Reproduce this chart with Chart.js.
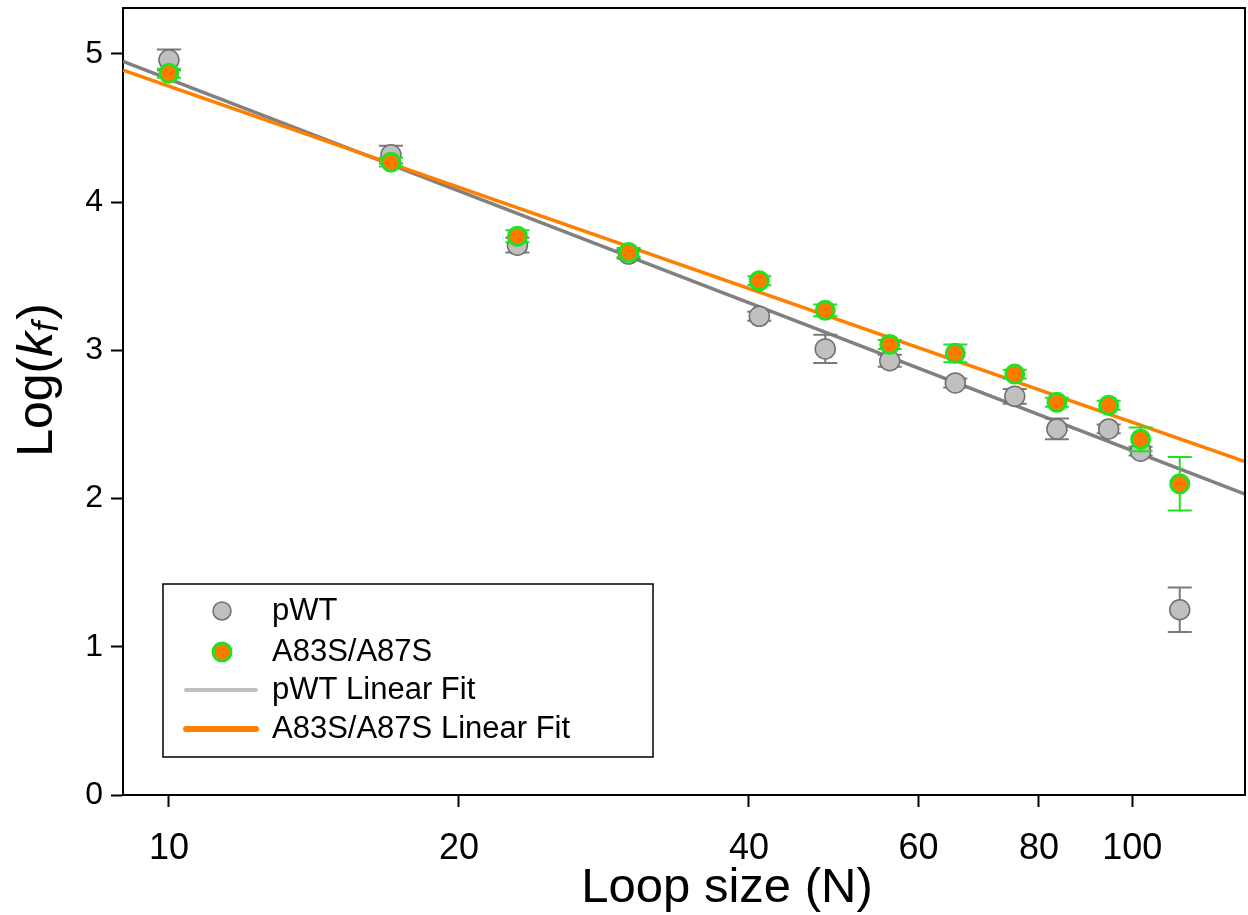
<!DOCTYPE html>
<html>
<head>
<meta charset="utf-8">
<script src="https://cdn.jsdelivr.net/npm/chart.js@4.4.1/dist/chart.umd.min.js"></script>
<style>
  html, body { margin: 0; padding: 0; background: #fff; }
</style>
</head>
<body>
<canvas id="chart" width="1248" height="915"></canvas>
<script>
// ---------------------------------------------------
// Data
// ---------------------------------------------------
var loopSizes = [10, 17, 23, 30, 41, 48, 56, 65.5, 75.5, 83.5, 94.5, 102, 112];

var wtLogKf  = [4.96, 4.32, 3.71, 3.65, 3.23, 3.01, 2.93, 2.78, 2.69, 2.47, 2.47, 2.32, 1.25];
var wtErr    = [0.07, 0.06, 0.05, 0.03, 0.03, 0.095, 0.04, 0.03, 0.05, 0.07, 0.03, 0.03, 0.15];

var mutLogKf = [4.87, 4.27, 3.77, 3.66, 3.47, 3.27, 3.04, 2.98, 2.84, 2.65, 2.63, 2.40, 2.10];
var mutErr   = [0.03, 0.03, 0.04, 0.03, 0.03, 0.04, 0.03, 0.06, 0.03, 0.03, 0.03, 0.08, 0.18];

// linear fit end points (log x axis, so they are straight lines)
var fitN     = [8.96, 130.9];
var wtFit    = [4.95, 2.03];
var mutFit   = [4.89, 2.25];

var xTicks   = [10, 20, 40, 60, 80, 100];
var yTicks   = [0, 1, 2, 3, 4, 5];

var legendLabels = ['pWT', 'A83S/A87S', 'pWT Linear Fit', 'A83S/A87S Linear Fit'];

var FONT = 'Arial, "Liberation Sans", sans-serif';

function toPoints(xs, ys) {
  return xs.map(function (x, i) { return { x: x, y: ys[i] }; });
}

// keep the plot box where the figure has it: no label overhang padding
function noLabelPadding(s) {
  s._calculatePadding = function () {
    this.paddingLeft = this.paddingRight = this.paddingTop = this.paddingBottom = 0;
  };
}

// ---------------------------------------------------
// Plugins
// ---------------------------------------------------

// error bars, drawn just before the points of their own dataset
var errorBars = {
  id: 'errorBars',
  beforeDatasetDraw: function (chart, args) {
    var ds = chart.data.datasets[args.index];
    if (!ds.errors) return;
    var ctx = chart.ctx, xs = chart.scales.x, ys = chart.scales.y;
    ctx.save();
    ctx.strokeStyle = ds.errColor;
    ctx.lineWidth = 2;
    ds.data.forEach(function (p, i) {
      var e = ds.errors[i];
      var px = xs.getPixelForValue(p.x);
      var top = ys.getPixelForValue(p.y + e);
      var bot = ys.getPixelForValue(p.y - e);
      ctx.beginPath();
      ctx.moveTo(px, top); ctx.lineTo(px, bot);
      ctx.moveTo(px - 12, top); ctx.lineTo(px + 12, top);
      ctx.moveTo(px - 12, bot); ctx.lineTo(px + 12, bot);
      ctx.stroke();
    });
    ctx.restore();
  }
};

// frame, axis titles and boxed legend
var decorations = {
  id: 'decorations',
  afterDraw: function (chart) {
    var ctx = chart.ctx, a = chart.chartArea;
    ctx.save();

    // top and right sides of the box
    ctx.strokeStyle = '#000';
    ctx.lineWidth = 2;
    ctx.beginPath();
    ctx.moveTo(a.left, a.top); ctx.lineTo(a.right, a.top); ctx.lineTo(a.right, a.bottom);
    ctx.stroke();

    // x title
    ctx.fillStyle = '#000';
    ctx.font = '49px ' + FONT;
    ctx.textAlign = 'center';
    ctx.textBaseline = 'alphabetic';
    ctx.fillText('Loop size (N)', 727, 902);

    // y title: Log(k_f) with italic k and subscript f
    ctx.translate(52, 381);
    ctx.rotate(-Math.PI / 2);
    var parts = [
      { t: 'Log(', f: '50px ' + FONT, dy: 0 },
      { t: 'k', f: 'italic 50px ' + FONT, dy: 0 },
      { t: 'f', f: 'italic 36px ' + FONT, dy: 6 },
      { t: ')', f: '50px ' + FONT, dy: 0 }
    ];
    var total = 0;
    parts.forEach(function (p) { ctx.font = p.f; p.w = ctx.measureText(p.t).width; total += p.w; });
    var cx = -total / 2;
    ctx.textAlign = 'left';
    parts.forEach(function (p) {
      ctx.font = p.f;
      ctx.fillText(p.t, cx, p.dy);
      cx += p.w + (p.t === 'f' ? 2 : 0);
    });
    ctx.setTransform(1, 0, 0, 1, 0, 0);

    // legend
    ctx.lineWidth = 1.5;
    ctx.strokeStyle = '#000';
    ctx.fillStyle = '#fff';
    ctx.fillRect(163, 584, 490, 173);
    ctx.strokeRect(163, 584, 490, 173);

    var rows = [611, 652, 690, 729];
    var ds = chart.data.datasets;
    // marker rows
    [0, 1].forEach(function (k) {
      ctx.beginPath();
      ctx.arc(222, rows[k], 9, 0, Math.PI * 2);
      ctx.fillStyle = ds[k].backgroundColor;
      ctx.fill();
      ctx.lineWidth = k === 0 ? 1.5 : 3;
      ctx.strokeStyle = ds[k].borderColor;
      ctx.stroke();
    });
    // line rows
    ctx.lineCap = 'round';
    ctx.strokeStyle = '#c0c0c0';
    ctx.lineWidth = 4;
    ctx.beginPath(); ctx.moveTo(186, rows[2]); ctx.lineTo(256, rows[2]); ctx.stroke();
    ctx.strokeStyle = ds[3].borderColor;
    ctx.lineWidth = 6;
    ctx.beginPath(); ctx.moveTo(186, rows[3]); ctx.lineTo(256, rows[3]); ctx.stroke();

    ctx.fillStyle = '#000';
    ctx.font = '31px ' + FONT;
    ctx.textBaseline = 'middle';
    legendLabels.forEach(function (lbl, i) { ctx.fillText(lbl, 272, rows[i]); });

    ctx.restore();
  }
};

// ---------------------------------------------------
// Chart
// ---------------------------------------------------
var ctx = document.getElementById('chart').getContext('2d');

new Chart(ctx, {
  type: 'scatter',
  data: {
    datasets: [
      {
        label: legendLabels[0],
        data: toPoints(loopSizes, wtLogKf),
        errors: wtErr,
        errColor: '#7a7a7a',
        backgroundColor: '#c0c0c0',
        borderColor: '#707070',
        borderWidth: 1.5,
        pointRadius: 10,
        order: 2
      },
      {
        label: legendLabels[1],
        data: toPoints(loopSizes, mutLogKf),
        errors: mutErr,
        errColor: '#22e022',
        backgroundColor: '#ff7b00',
        borderColor: '#22e022',
        borderWidth: 3,
        pointRadius: 9,
        order: 1
      },
      {
        label: legendLabels[2],
        type: 'line',
        data: toPoints(fitN, wtFit),
        borderColor: '#808080',
        borderWidth: 3.5,
        pointRadius: 0,
        fill: false,
        order: 4
      },
      {
        label: legendLabels[3],
        type: 'line',
        data: toPoints(fitN, mutFit),
        borderColor: '#ff7f00',
        borderWidth: 3.5,
        pointRadius: 0,
        fill: false,
        order: 3
      }
    ]
  },
  options: {
    responsive: false,
    animation: false,
    // no automatic room for point overflow, the plot box is fixed
    layout: { autoPadding: false, padding: { top: 8, right: 3, left: 0, bottom: 0 } },
    plugins: {
      legend: { display: false },
      tooltip: { enabled: false }
    },
    scales: {
      x: {
        type: 'logarithmic',
        min: fitN[0],
        max: fitN[1],
        beforeFit: noLabelPadding,
        afterBuildTicks: function (s) { s.ticks = xTicks.map(function (v) { return { value: v }; }); },
        afterFit: function (s) { s.height = 120; },
        ticks: {
          color: '#000',
          font: { family: FONT, size: 36 },
          padding: 20,
          maxRotation: 0,
          autoSkip: false,
          callback: function (v) { return String(v); }
        },
        grid: { drawOnChartArea: false, drawTicks: true, tickLength: 12, tickColor: '#000', tickWidth: 2 },
        border: { display: true, color: '#000', width: 2 }
      },
      y: {
        type: 'linear',
        min: 0,
        max: 5.31,
        beforeFit: noLabelPadding,
        afterBuildTicks: function (s) { s.ticks = yTicks.map(function (v) { return { value: v }; }); },
        afterFit: function (s) { s.width = 123; },
        ticks: {
          color: '#000',
          font: { family: FONT, size: 32 },
          padding: 8
        },
        grid: { drawOnChartArea: false, drawTicks: true, tickLength: 12, tickColor: '#000', tickWidth: 2 },
        border: { display: true, color: '#000', width: 2 }
      }
    }
  },
  plugins: [errorBars, decorations]
});
</script>
</body>
</html>
